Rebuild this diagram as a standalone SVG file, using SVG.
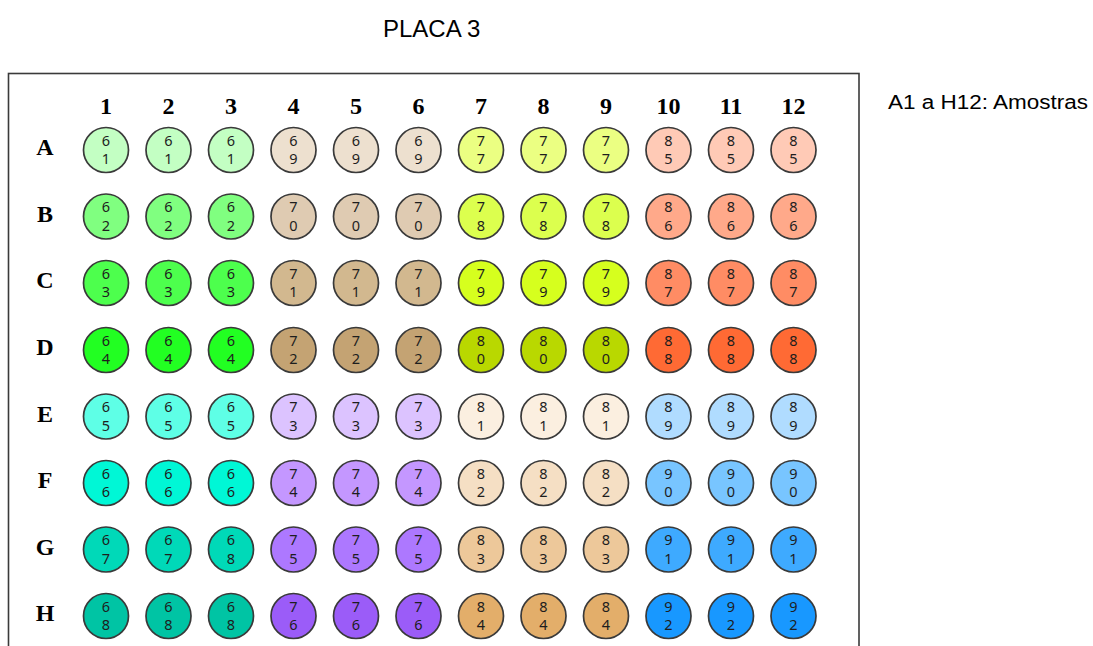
<svg xmlns="http://www.w3.org/2000/svg" width="1093" height="646" viewBox="0 0 1093 646">
<style>
.title{font-family:"Liberation Sans",Arial,sans-serif;font-size:24px;fill:#000}
.legend{font-family:"Liberation Sans",Arial,sans-serif;font-size:20px;fill:#000}
.hdr{font-family:"Liberation Serif","Times New Roman",serif;font-size:24px;font-weight:bold;fill:#000;text-anchor:middle}
.w circle{stroke:#3a3a3a;stroke-width:1.7}
.w text{font-family:"Noto Sans","DejaVu Sans",sans-serif;font-size:14.5px;fill:#1e1e1e;text-anchor:middle}
.a1{fill:#c3ffc3}.a2{fill:#ede0cf}.a3{fill:#ebff82}.a4{fill:#ffcab6}
.b1{fill:#80ff80}.b2{fill:#dfcbb2}.b3{fill:#dcff4e}.b4{fill:#ffa98a}
.c1{fill:#4dff4d}.c2{fill:#d2b88f}.c3{fill:#d6ff1e}.c4{fill:#ff8c64}
.d1{fill:#22ff22}.d2{fill:#c4a373}.d3{fill:#b9d800}.d4{fill:#ff6a34}
.e1{fill:#5effe6}.e2{fill:#dcc3ff}.e3{fill:#fbefe0}.e4{fill:#b0dcff}
.f1{fill:#00f7d6}.f2{fill:#c497ff}.f3{fill:#f5dfc4}.f4{fill:#78c5ff}
.g1{fill:#00d9b8}.g2{fill:#ad78ff}.g3{fill:#edc89a}.g4{fill:#3eaaff}
.h1{fill:#00c4a4}.h2{fill:#9b5cf8}.h3{fill:#e3ae6a}.h4{fill:#1898ff}
</style>
<rect width="1093" height="646" fill="#fff"/>
<text class="title" x="383" y="37">PLACA 3</text>
<text class="legend" x="888" y="109" textLength="200" lengthAdjust="spacingAndGlyphs">A1 a H12: Amostras</text>
<g id="plate">
<rect x="8.5" y="73.5" width="850.5" height="620" fill="none" stroke="#3a3a3a" stroke-width="1.6"/>
</g>
<g id="col-headers">
<text class="hdr" x="106" y="114">1</text>
<text class="hdr" x="168.5" y="114">2</text>
<text class="hdr" x="231" y="114">3</text>
<text class="hdr" x="293.5" y="114">4</text>
<text class="hdr" x="356" y="114">5</text>
<text class="hdr" x="418.5" y="114">6</text>
<text class="hdr" x="481" y="114">7</text>
<text class="hdr" x="543.5" y="114">8</text>
<text class="hdr" x="606" y="114">9</text>
<text class="hdr" x="668.5" y="114">10</text>
<text class="hdr" x="731" y="114">11</text>
<text class="hdr" x="793.5" y="114">12</text>
</g>
<g id="row-headers">
<text class="hdr" x="45" y="155">A</text>
<text class="hdr" x="45" y="221.5">B</text>
<text class="hdr" x="45" y="288">C</text>
<text class="hdr" x="45" y="355">D</text>
<text class="hdr" x="45" y="421.5">E</text>
<text class="hdr" x="45" y="488">F</text>
<text class="hdr" x="45" y="554.5">G</text>
<text class="hdr" x="45" y="621">H</text>
</g>
<g id="connectors"></g>
<g id="wells">
<g id="A1" class="w" transform="translate(106,150)"><circle r="22.5" class="a1"/><text y="-4.3">6</text><text y="14.2">1</text></g>
<g id="A2" class="w" transform="translate(168.5,150)"><circle r="22.5" class="a1"/><text y="-4.3">6</text><text y="14.2">1</text></g>
<g id="A3" class="w" transform="translate(231,150)"><circle r="22.5" class="a1"/><text y="-4.3">6</text><text y="14.2">1</text></g>
<g id="A4" class="w" transform="translate(293.5,150)"><circle r="22.5" class="a2"/><text y="-4.3">6</text><text y="14.2">9</text></g>
<g id="A5" class="w" transform="translate(356,150)"><circle r="22.5" class="a2"/><text y="-4.3">6</text><text y="14.2">9</text></g>
<g id="A6" class="w" transform="translate(418.5,150)"><circle r="22.5" class="a2"/><text y="-4.3">6</text><text y="14.2">9</text></g>
<g id="A7" class="w" transform="translate(481,150)"><circle r="22.5" class="a3"/><text y="-4.3">7</text><text y="14.2">7</text></g>
<g id="A8" class="w" transform="translate(543.5,150)"><circle r="22.5" class="a3"/><text y="-4.3">7</text><text y="14.2">7</text></g>
<g id="A9" class="w" transform="translate(606,150)"><circle r="22.5" class="a3"/><text y="-4.3">7</text><text y="14.2">7</text></g>
<g id="A10" class="w" transform="translate(668.5,150)"><circle r="22.5" class="a4"/><text y="-4.3">8</text><text y="14.2">5</text></g>
<g id="A11" class="w" transform="translate(731,150)"><circle r="22.5" class="a4"/><text y="-4.3">8</text><text y="14.2">5</text></g>
<g id="A12" class="w" transform="translate(793.5,150)"><circle r="22.5" class="a4"/><text y="-4.3">8</text><text y="14.2">5</text></g>

<g id="B1" class="w" transform="translate(106,216.5)"><circle r="22.5" class="b1"/><text y="-4.3">6</text><text y="14.2">2</text></g>
<g id="B2" class="w" transform="translate(168.5,216.5)"><circle r="22.5" class="b1"/><text y="-4.3">6</text><text y="14.2">2</text></g>
<g id="B3" class="w" transform="translate(231,216.5)"><circle r="22.5" class="b1"/><text y="-4.3">6</text><text y="14.2">2</text></g>
<g id="B4" class="w" transform="translate(293.5,216.5)"><circle r="22.5" class="b2"/><text y="-4.3">7</text><text y="14.2">0</text></g>
<g id="B5" class="w" transform="translate(356,216.5)"><circle r="22.5" class="b2"/><text y="-4.3">7</text><text y="14.2">0</text></g>
<g id="B6" class="w" transform="translate(418.5,216.5)"><circle r="22.5" class="b2"/><text y="-4.3">7</text><text y="14.2">0</text></g>
<g id="B7" class="w" transform="translate(481,216.5)"><circle r="22.5" class="b3"/><text y="-4.3">7</text><text y="14.2">8</text></g>
<g id="B8" class="w" transform="translate(543.5,216.5)"><circle r="22.5" class="b3"/><text y="-4.3">7</text><text y="14.2">8</text></g>
<g id="B9" class="w" transform="translate(606,216.5)"><circle r="22.5" class="b3"/><text y="-4.3">7</text><text y="14.2">8</text></g>
<g id="B10" class="w" transform="translate(668.5,216.5)"><circle r="22.5" class="b4"/><text y="-4.3">8</text><text y="14.2">6</text></g>
<g id="B11" class="w" transform="translate(731,216.5)"><circle r="22.5" class="b4"/><text y="-4.3">8</text><text y="14.2">6</text></g>
<g id="B12" class="w" transform="translate(793.5,216.5)"><circle r="22.5" class="b4"/><text y="-4.3">8</text><text y="14.2">6</text></g>

<g id="C1" class="w" transform="translate(106,283)"><circle r="22.5" class="c1"/><text y="-4.3">6</text><text y="14.2">3</text></g>
<g id="C2" class="w" transform="translate(168.5,283)"><circle r="22.5" class="c1"/><text y="-4.3">6</text><text y="14.2">3</text></g>
<g id="C3" class="w" transform="translate(231,283)"><circle r="22.5" class="c1"/><text y="-4.3">6</text><text y="14.2">3</text></g>
<g id="C4" class="w" transform="translate(293.5,283)"><circle r="22.5" class="c2"/><text y="-4.3">7</text><text y="14.2">1</text></g>
<g id="C5" class="w" transform="translate(356,283)"><circle r="22.5" class="c2"/><text y="-4.3">7</text><text y="14.2">1</text></g>
<g id="C6" class="w" transform="translate(418.5,283)"><circle r="22.5" class="c2"/><text y="-4.3">7</text><text y="14.2">1</text></g>
<g id="C7" class="w" transform="translate(481,283)"><circle r="22.5" class="c3"/><text y="-4.3">7</text><text y="14.2">9</text></g>
<g id="C8" class="w" transform="translate(543.5,283)"><circle r="22.5" class="c3"/><text y="-4.3">7</text><text y="14.2">9</text></g>
<g id="C9" class="w" transform="translate(606,283)"><circle r="22.5" class="c3"/><text y="-4.3">7</text><text y="14.2">9</text></g>
<g id="C10" class="w" transform="translate(668.5,283)"><circle r="22.5" class="c4"/><text y="-4.3">8</text><text y="14.2">7</text></g>
<g id="C11" class="w" transform="translate(731,283)"><circle r="22.5" class="c4"/><text y="-4.3">8</text><text y="14.2">7</text></g>
<g id="C12" class="w" transform="translate(793.5,283)"><circle r="22.5" class="c4"/><text y="-4.3">8</text><text y="14.2">7</text></g>

<g id="D1" class="w" transform="translate(106,350)"><circle r="22.5" class="d1"/><text y="-4.3">6</text><text y="14.2">4</text></g>
<g id="D2" class="w" transform="translate(168.5,350)"><circle r="22.5" class="d1"/><text y="-4.3">6</text><text y="14.2">4</text></g>
<g id="D3" class="w" transform="translate(231,350)"><circle r="22.5" class="d1"/><text y="-4.3">6</text><text y="14.2">4</text></g>
<g id="D4" class="w" transform="translate(293.5,350)"><circle r="22.5" class="d2"/><text y="-4.3">7</text><text y="14.2">2</text></g>
<g id="D5" class="w" transform="translate(356,350)"><circle r="22.5" class="d2"/><text y="-4.3">7</text><text y="14.2">2</text></g>
<g id="D6" class="w" transform="translate(418.5,350)"><circle r="22.5" class="d2"/><text y="-4.3">7</text><text y="14.2">2</text></g>
<g id="D7" class="w" transform="translate(481,350)"><circle r="22.5" class="d3"/><text y="-4.3">8</text><text y="14.2">0</text></g>
<g id="D8" class="w" transform="translate(543.5,350)"><circle r="22.5" class="d3"/><text y="-4.3">8</text><text y="14.2">0</text></g>
<g id="D9" class="w" transform="translate(606,350)"><circle r="22.5" class="d3"/><text y="-4.3">8</text><text y="14.2">0</text></g>
<g id="D10" class="w" transform="translate(668.5,350)"><circle r="22.5" class="d4"/><text y="-4.3">8</text><text y="14.2">8</text></g>
<g id="D11" class="w" transform="translate(731,350)"><circle r="22.5" class="d4"/><text y="-4.3">8</text><text y="14.2">8</text></g>
<g id="D12" class="w" transform="translate(793.5,350)"><circle r="22.5" class="d4"/><text y="-4.3">8</text><text y="14.2">8</text></g>

<g id="E1" class="w" transform="translate(106,416.5)"><circle r="22.5" class="e1"/><text y="-4.3">6</text><text y="14.2">5</text></g>
<g id="E2" class="w" transform="translate(168.5,416.5)"><circle r="22.5" class="e1"/><text y="-4.3">6</text><text y="14.2">5</text></g>
<g id="E3" class="w" transform="translate(231,416.5)"><circle r="22.5" class="e1"/><text y="-4.3">6</text><text y="14.2">5</text></g>
<g id="E4" class="w" transform="translate(293.5,416.5)"><circle r="22.5" class="e2"/><text y="-4.3">7</text><text y="14.2">3</text></g>
<g id="E5" class="w" transform="translate(356,416.5)"><circle r="22.5" class="e2"/><text y="-4.3">7</text><text y="14.2">3</text></g>
<g id="E6" class="w" transform="translate(418.5,416.5)"><circle r="22.5" class="e2"/><text y="-4.3">7</text><text y="14.2">3</text></g>
<g id="E7" class="w" transform="translate(481,416.5)"><circle r="22.5" class="e3"/><text y="-4.3">8</text><text y="14.2">1</text></g>
<g id="E8" class="w" transform="translate(543.5,416.5)"><circle r="22.5" class="e3"/><text y="-4.3">8</text><text y="14.2">1</text></g>
<g id="E9" class="w" transform="translate(606,416.5)"><circle r="22.5" class="e3"/><text y="-4.3">8</text><text y="14.2">1</text></g>
<g id="E10" class="w" transform="translate(668.5,416.5)"><circle r="22.5" class="e4"/><text y="-4.3">8</text><text y="14.2">9</text></g>
<g id="E11" class="w" transform="translate(731,416.5)"><circle r="22.5" class="e4"/><text y="-4.3">8</text><text y="14.2">9</text></g>
<g id="E12" class="w" transform="translate(793.5,416.5)"><circle r="22.5" class="e4"/><text y="-4.3">8</text><text y="14.2">9</text></g>

<g id="F1" class="w" transform="translate(106,483)"><circle r="22.5" class="f1"/><text y="-4.3">6</text><text y="14.2">6</text></g>
<g id="F2" class="w" transform="translate(168.5,483)"><circle r="22.5" class="f1"/><text y="-4.3">6</text><text y="14.2">6</text></g>
<g id="F3" class="w" transform="translate(231,483)"><circle r="22.5" class="f1"/><text y="-4.3">6</text><text y="14.2">6</text></g>
<g id="F4" class="w" transform="translate(293.5,483)"><circle r="22.5" class="f2"/><text y="-4.3">7</text><text y="14.2">4</text></g>
<g id="F5" class="w" transform="translate(356,483)"><circle r="22.5" class="f2"/><text y="-4.3">7</text><text y="14.2">4</text></g>
<g id="F6" class="w" transform="translate(418.5,483)"><circle r="22.5" class="f2"/><text y="-4.3">7</text><text y="14.2">4</text></g>
<g id="F7" class="w" transform="translate(481,483)"><circle r="22.5" class="f3"/><text y="-4.3">8</text><text y="14.2">2</text></g>
<g id="F8" class="w" transform="translate(543.5,483)"><circle r="22.5" class="f3"/><text y="-4.3">8</text><text y="14.2">2</text></g>
<g id="F9" class="w" transform="translate(606,483)"><circle r="22.5" class="f3"/><text y="-4.3">8</text><text y="14.2">2</text></g>
<g id="F10" class="w" transform="translate(668.5,483)"><circle r="22.5" class="f4"/><text y="-4.3">9</text><text y="14.2">0</text></g>
<g id="F11" class="w" transform="translate(731,483)"><circle r="22.5" class="f4"/><text y="-4.3">9</text><text y="14.2">0</text></g>
<g id="F12" class="w" transform="translate(793.5,483)"><circle r="22.5" class="f4"/><text y="-4.3">9</text><text y="14.2">0</text></g>

<g id="G1" class="w" transform="translate(106,549.5)"><circle r="22.5" class="g1"/><text y="-4.3">6</text><text y="14.2">7</text></g>
<g id="G2" class="w" transform="translate(168.5,549.5)"><circle r="22.5" class="g1"/><text y="-4.3">6</text><text y="14.2">7</text></g>
<g id="G3" class="w" transform="translate(231,549.5)"><circle r="22.5" class="g1"/><text y="-4.3">6</text><text y="14.2">8</text></g>
<g id="G4" class="w" transform="translate(293.5,549.5)"><circle r="22.5" class="g2"/><text y="-4.3">7</text><text y="14.2">5</text></g>
<g id="G5" class="w" transform="translate(356,549.5)"><circle r="22.5" class="g2"/><text y="-4.3">7</text><text y="14.2">5</text></g>
<g id="G6" class="w" transform="translate(418.5,549.5)"><circle r="22.5" class="g2"/><text y="-4.3">7</text><text y="14.2">5</text></g>
<g id="G7" class="w" transform="translate(481,549.5)"><circle r="22.5" class="g3"/><text y="-4.3">8</text><text y="14.2">3</text></g>
<g id="G8" class="w" transform="translate(543.5,549.5)"><circle r="22.5" class="g3"/><text y="-4.3">8</text><text y="14.2">3</text></g>
<g id="G9" class="w" transform="translate(606,549.5)"><circle r="22.5" class="g3"/><text y="-4.3">8</text><text y="14.2">3</text></g>
<g id="G10" class="w" transform="translate(668.5,549.5)"><circle r="22.5" class="g4"/><text y="-4.3">9</text><text y="14.2">1</text></g>
<g id="G11" class="w" transform="translate(731,549.5)"><circle r="22.5" class="g4"/><text y="-4.3">9</text><text y="14.2">1</text></g>
<g id="G12" class="w" transform="translate(793.5,549.5)"><circle r="22.5" class="g4"/><text y="-4.3">9</text><text y="14.2">1</text></g>

<g id="H1" class="w" transform="translate(106,616)"><circle r="22.5" class="h1"/><text y="-4.3">6</text><text y="14.2">8</text></g>
<g id="H2" class="w" transform="translate(168.5,616)"><circle r="22.5" class="h1"/><text y="-4.3">6</text><text y="14.2">8</text></g>
<g id="H3" class="w" transform="translate(231,616)"><circle r="22.5" class="h1"/><text y="-4.3">6</text><text y="14.2">8</text></g>
<g id="H4" class="w" transform="translate(293.5,616)"><circle r="22.5" class="h2"/><text y="-4.3">7</text><text y="14.2">6</text></g>
<g id="H5" class="w" transform="translate(356,616)"><circle r="22.5" class="h2"/><text y="-4.3">7</text><text y="14.2">6</text></g>
<g id="H6" class="w" transform="translate(418.5,616)"><circle r="22.5" class="h2"/><text y="-4.3">7</text><text y="14.2">6</text></g>
<g id="H7" class="w" transform="translate(481,616)"><circle r="22.5" class="h3"/><text y="-4.3">8</text><text y="14.2">4</text></g>
<g id="H8" class="w" transform="translate(543.5,616)"><circle r="22.5" class="h3"/><text y="-4.3">8</text><text y="14.2">4</text></g>
<g id="H9" class="w" transform="translate(606,616)"><circle r="22.5" class="h3"/><text y="-4.3">8</text><text y="14.2">4</text></g>
<g id="H10" class="w" transform="translate(668.5,616)"><circle r="22.5" class="h4"/><text y="-4.3">9</text><text y="14.2">2</text></g>
<g id="H11" class="w" transform="translate(731,616)"><circle r="22.5" class="h4"/><text y="-4.3">9</text><text y="14.2">2</text></g>
<g id="H12" class="w" transform="translate(793.5,616)"><circle r="22.5" class="h4"/><text y="-4.3">9</text><text y="14.2">2</text></g>
</g>
</svg>
